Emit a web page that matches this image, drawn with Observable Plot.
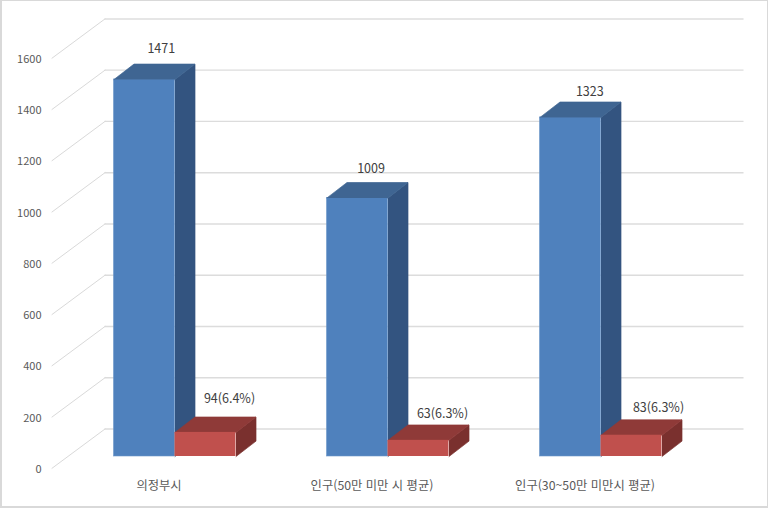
<!DOCTYPE html>
<html lang="ko">
<head>
<meta charset="utf-8">
<script src="https://cdn.jsdelivr.net/npm/d3@7"></script>
<script src="https://cdn.jsdelivr.net/npm/@observablehq/plot@0.6"></script>
<style>
  html, body { margin: 0; padding: 0; background: #fff; }
  #chart { position: relative; width: 768px; height: 508px; overflow: hidden; }
  #chart svg { position: absolute; left: 0; top: 0; display: block; }
  #border { position: absolute; inset: 0; border: 2px solid #d9d9d9; box-sizing: border-box; pointer-events: none; border-top-width: 1px; border-right-width: 1px; }
</style>
</head>
<body>
<div id="chart"><div id="border"></div></div>
<script>
const categories = ["의정부시", "인구(50만 미만 시 평균)", "인구(30~50만 미만시 평균)"];
const totals = [1471, 1009, 1323];
const parts = [94, 63, 83];
const partLabels = ["94(6.4%)", "63(6.3%)", "83(6.3%)"];
const yTicks = [0, 200, 400, 600, 800, 1000, 1200, 1400, 1600];

// scene geometry, in scale units
const PX = 213;                    // px per category
const barW = 61 / PX;
const depthX = 20 / PX, depthY = 60;
const wallLeft = -70 / PX, wallRight = 569 / PX, wallLift = 107.3;
const sideLeft = -123 / PX, sideDrop = -46;

const faces = [];
function box(id, x0, v, top, side) {
  const x1 = x0 + barW;
  [[`${id}s`, side, [[x1, 0], [x1 + depthX, depthY], [x1 + depthX, v + depthY], [x1, v]]],
   [`${id}t`, top, [[x0, v], [x0 + depthX, v + depthY], [x1 + depthX, v + depthY], [x1, v]]]]
    .forEach(([k, c, pts]) => pts.forEach(([x, y]) => faces.push({k, c, x, y})));
}
categories.forEach((_, i) => box(`b${i}`, i - barW, totals[i], "#3f6592", "#335480"));
const blueFaces = faces.splice(0);
categories.forEach((_, i) => box(`r${i}`, i, parts[i], "#8f3a38", "#7a302e"));
const redFaces = faces.splice(0);

const diagonals = yTicks.flatMap(v => [
  {v, x: sideLeft, y: v + sideDrop},
  {v, x: wallLeft, y: v + wallLift}
]);

// label placement relative to each bar, in px
const totalNudge = [[16.75, -15], [13.5, -14], [19.25, -10]];
const partNudge = [[54.5, -18], [54.5, -11], [57.5, -12]];
const font = "'Noto Sans CJK KR', 'Noto Sans', sans-serif";

const totalText = categories.map((_, i) => Plot.text([totals[i]], {
  x: [i - barW / 2], y: [totals[i] + depthY], text: [String(totals[i])],
  dx: totalNudge[i][0], dy: totalNudge[i][1], fontSize: 12.5, fill: "#404040", lineAnchor: "middle"
}));
const partText = categories.map((_, i) => Plot.text([parts[i]], {
  x: [i], y: [parts[i] + depthY], text: [partLabels[i]],
  dx: partNudge[i][0], dy: partNudge[i][1], fontSize: 12.5, fill: "#404040", lineAnchor: "middle"
}));

const plot = Plot.plot({
  width: 768, height: 508,
  marginLeft: 44, marginRight: 0, marginTop: 0, marginBottom: 27,
  style: {background: "transparent", fontFamily: font},
  x: {type: "linear", domain: [0, 2], range: [174.5, 600.5], axis: null},
  y: {type: "linear", domain: [0, 1600], range: [456, 45.9], axis: null},
  marks: [
    Plot.ruleY(yTicks, {
      y: d => d + wallLift, x1: wallLeft, x2: wallRight,
      stroke: d => d === 1600 ? "#e6e6e6" : "#dcdcdc",
      strokeWidth: d => d === 1600 ? 2 : 1.4
    }),
    Plot.line(diagonals, {x: "x", y: "y", z: "v", stroke: "#d9d9d9", strokeWidth: 1}),
    Plot.rectY(totals, {
      x1: (_, i) => i - barW, x2: (_, i) => i, y1: 0, y2: d => d,
      fill: "#4f81bd", stroke: "#6d96c9", strokeWidth: 0.6
    }),
    Plot.line(blueFaces, {x: "x", y: "y", z: "k", fill: "c", stroke: "c", strokeWidth: 0.7}),
    Plot.line(redFaces, {x: "x", y: "y", z: "k", fill: "c", stroke: "c", strokeWidth: 0.7}),
    Plot.rectY(parts, {
      x1: (_, i) => i, x2: (_, i) => i + barW, y1: 0, y2: d => d,
      fill: "#c0504d"
    }),
    Plot.axisY({
      anchor: "left", ticks: yTicks, tickSize: 0, tickPadding: 3, dy: 12.8, label: null,
      tickFormat: d => String(d), fontSize: 11, color: "#595959"
    }),
    Plot.axisX({
      anchor: "bottom", ticks: [0, 1, 2], tickSize: 0, tickPadding: 0, label: null,
      tickFormat: i => categories[i], dx: -16, fontSize: 12.3, color: "#595959"
    }),
    ...totalText,
    ...partText
  ]
});
document.getElementById("chart").prepend(plot);
</script>
</body>
</html>
